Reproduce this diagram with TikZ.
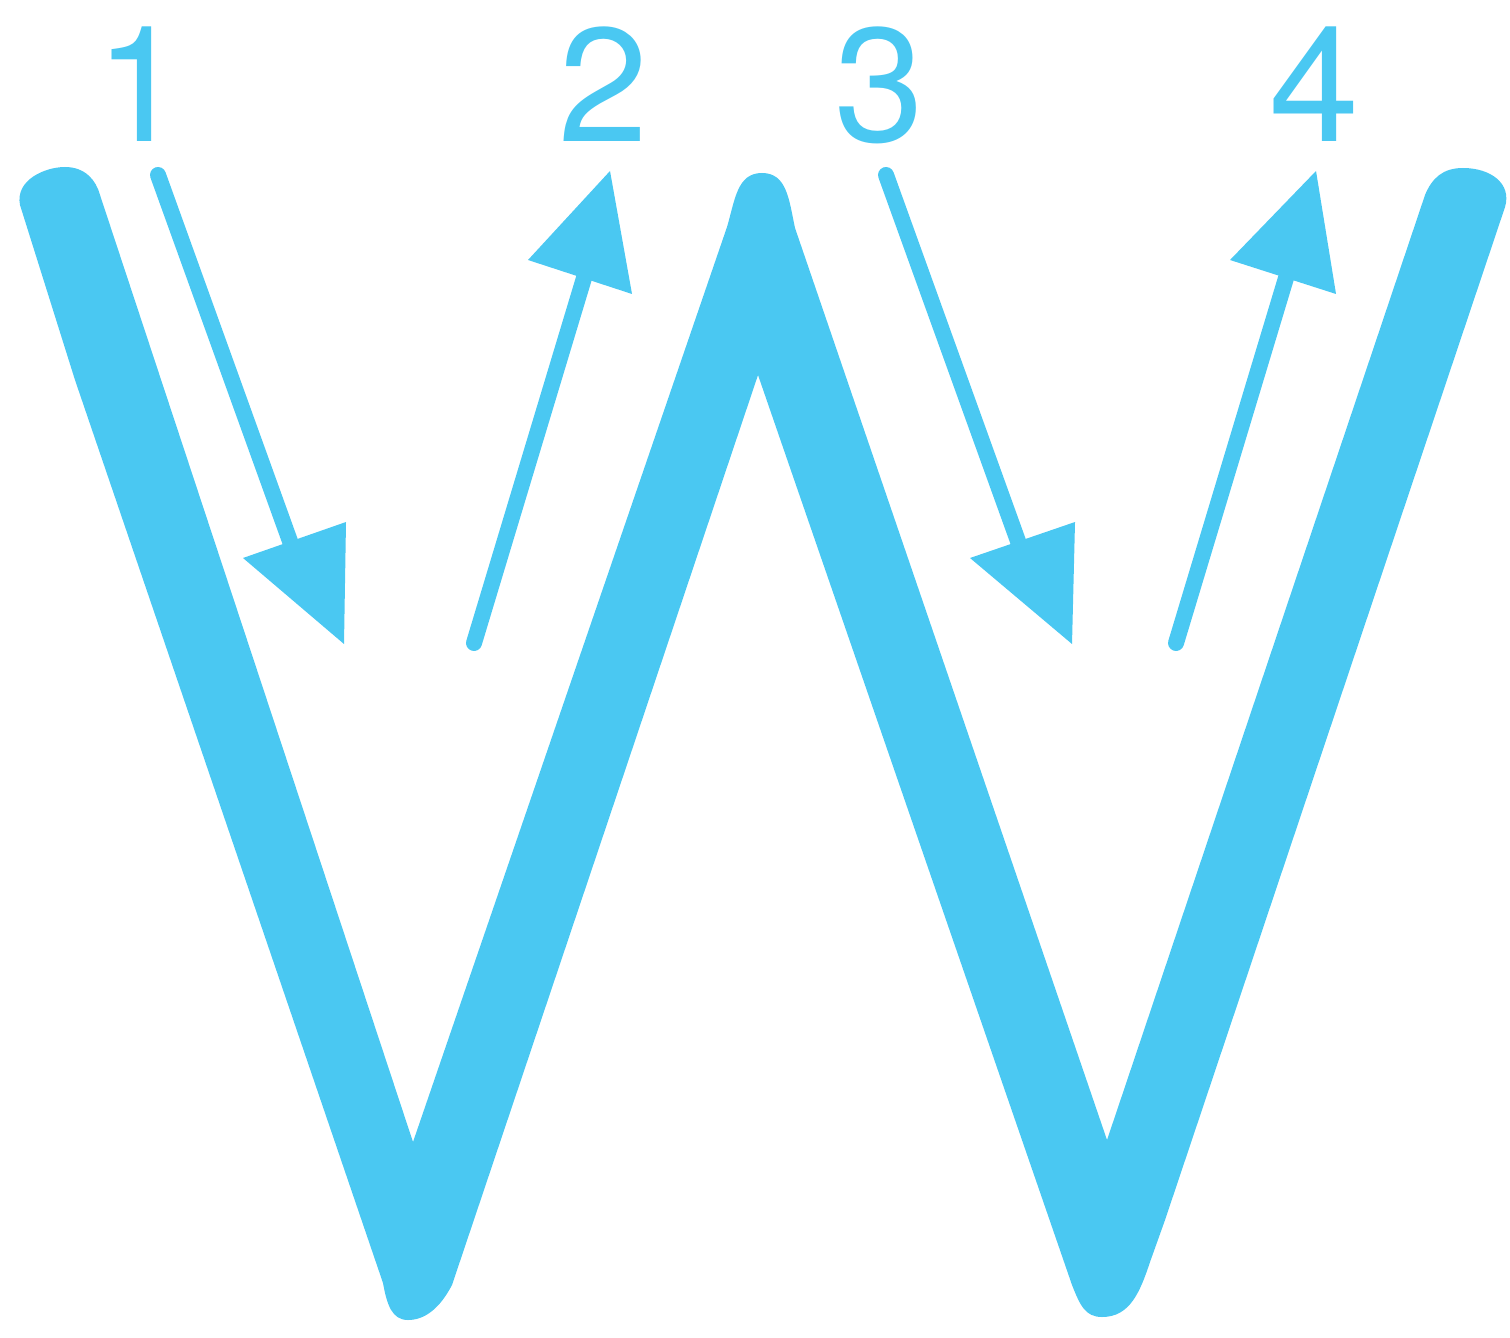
\documentclass[tikz,border=0pt]{standalone}
\usepackage{fontspec}
\newfontfamily\digitfont{TeX Gyre Heros}
\definecolor{wblue}{HTML}{4AC8F2}
\begin{document}
\begin{tikzpicture}[x=0.01cm,y=-0.01cm,
  wfill/.style={fill=wblue,draw=none},
  shaft/.style={draw=wblue,line width=0.16cm,line cap=round},
  headtri/.style={fill=wblue,draw=none},
  digit/.style={text=wblue,font=\digitfont\fontsize{46}{46}\selectfont,inner sep=0pt,anchor=base}]
\useasboundingbox (0,0) rectangle (1510,1337);
% the letter W
\fill[wfill] (20,205) .. controls (15,180) and (45,167) .. (65,167)
  .. controls (85,167) and (96,180) .. (100,195)
  -- (413,1142) -- (727,227)
  .. controls (735,200) and (737,173) .. (762,173)
  .. controls (787,173) and (789,200) .. (795,228)
  -- (1107,1140) -- (1425,195)
  .. controls (1432,178) and (1443,168) .. (1463,168)
  .. controls (1490,168) and (1512,183) .. (1505,207)
  -- (1165,1220) -- (1150,1262)
  .. controls (1140,1292) and (1130,1317) .. (1102,1317)
  .. controls (1085,1317) and (1080,1305) .. (1072,1285)
  -- (758,375) -- (452,1285)
  .. controls (440,1308) and (425,1320) .. (408,1320)
  .. controls (392,1320) and (387,1305) .. (383,1283)
  -- (75,380) -- cycle;
% stroke arrows
\coordinate (a1s) at (158,175); \coordinate (a1e) at (291,544);
\coordinate (a2s) at (474,643); \coordinate (a2e) at (584,278);
\coordinate (a3s) at (886,175); \coordinate (a3e) at (1019,544);
\coordinate (a4s) at (1176,643); \coordinate (a4e) at (1286,278);
\draw[shaft] (a1s) -- (a1e);
\draw[shaft] (a2s) -- (a2e);
\draw[shaft] (a3s) -- (a3e);
\draw[shaft] (a4s) -- (a4e);
\fill[headtri] (243,558) -- (346,522) -- (344,644) -- cycle;
\fill[headtri] (528,260) -- (610,171) -- (632,294) -- cycle;
\fill[headtri] (970,558) -- (1075,522) -- (1072,644) -- cycle;
\fill[headtri] (1230,260) -- (1316,171) -- (1336,294) -- cycle;
% numbers
\node[digit] (n1) at (140,142) {1};
\node[digit] (n2) at (603,142) {2};
\node[digit] (n3) at (879,142) {3};
\node[digit] (n4) at (1314,142) {4};
\end{tikzpicture}
\end{document}
